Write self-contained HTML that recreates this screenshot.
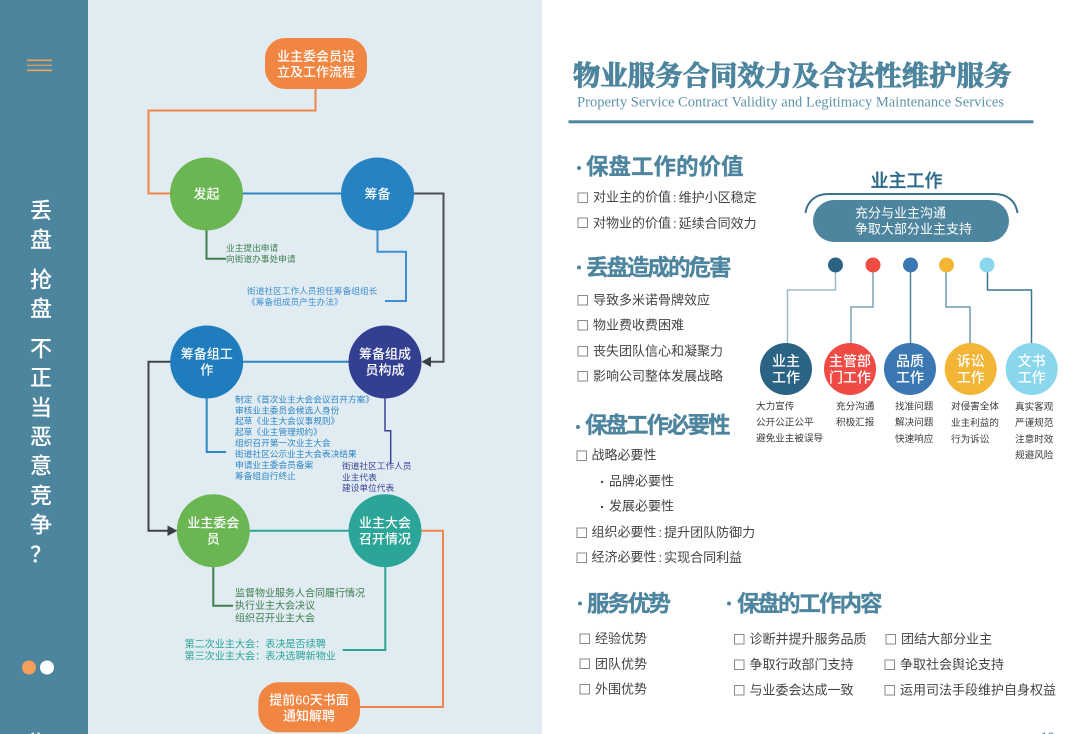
<!DOCTYPE html>
<html lang="zh"><head><meta charset="utf-8"><title>物业服务合同效力及合法性维护服务</title>
<style>
html,body{margin:0;padding:0;background:#fff;width:1080px;height:734px;overflow:hidden}
svg{display:block}
text{font-family:"Liberation Sans","Noto Sans CJK SC",sans-serif;dominant-baseline:central}
.w{fill:#fff;font-weight:500;text-anchor:middle}
.s{font-size:8.7px}
.h{font-size:22.5px;font-weight:700;fill:#4d849e;stroke:#4d849e;stroke-width:.3px;letter-spacing:-2px}
.i{font-size:13px;fill:#444}
.t{font-size:9.6px;fill:#3a3a3a}
.c{fill:none;stroke:#8a8a8a;stroke-width:1}
.l{fill:none;stroke-width:1.5}
.n{fill:none;stroke-width:2}
</style></head><body>
<svg width="1080" height="734" viewBox="0 0 1080 734" xmlns="http://www.w3.org/2000/svg">
<rect width="1080" height="734" fill="#fff"/>
<rect width="88" height="734" fill="#4d849e"/>
<rect x="88" width="454" height="734" fill="#e1ecf2"/>

<!-- left bar -->
<g stroke="#eda45e" stroke-width="1.6"><path d="M27 60.3H52M27 70.3H52"/></g>
<path d="M27 65.3H52" stroke="#d3a06c" stroke-width="1.4"/>
<text class="w" font-size="22" x="41" y="211">丢</text>
<text class="w" font-size="22" x="41" y="240">盘</text>
<text class="w" font-size="22" x="41" y="280">抢</text>
<text class="w" font-size="22" x="41" y="309">盘</text>
<text class="w" font-size="22" x="41" y="349">不</text>
<text class="w" font-size="22" x="41" y="378">正</text>
<text class="w" font-size="22" x="41" y="408">当</text>
<text class="w" font-size="22" x="41" y="437">恶</text>
<text class="w" font-size="22" x="41" y="466">意</text>
<text class="w" font-size="22" x="41" y="496">竞</text>
<text class="w" font-size="22" x="41" y="525">争</text>
<text class="w" font-size="22" x="41" y="555">？</text>
<circle cx="29" cy="667.5" r="7" fill="#f4a05a"/>
<circle cx="47" cy="667.5" r="7" fill="#fff"/>
<text class="w" font-size="12" x="36" y="737">11</text>
<text font-size="12" x="1041" y="737" fill="#4d849e">12</text>

<!-- flow connectors -->
<path class="n" stroke="#f0854a" d="M315.5 89V110.5H148.5V193.5H172"/>
<path class="n" stroke="#2f86c5" d="M240 193.5H343"/>
<path class="n" stroke="#4a4f55" d="M412 193.5H443.5V361.7H430"/>
<path d="M421.5 361.7L431 356.5V367Z" fill="#3a3f44"/>
<path class="n" stroke="#3f7f4f" d="M206.5 228V258.7H226"/>
<path class="n" stroke="#3f8fd0" d="M377.5 228V251.7H406V301H385"/>
<path class="n" stroke="#2f86c5" d="M240 361.7H352"/>
<path class="n" stroke="#2f86c5" d="M206.7 396V452H226"/>
<path class="l" stroke="#3a4596" d="M385 396V430.7H390.7V464"/>
<path class="n" stroke="#3f4347" d="M172 361.7H148.5V530.7H168"/>
<path d="M177.5 530.7L167.5 525.5V536Z" fill="#3a3f44"/>
<path class="n" stroke="#2aa597" d="M247 530.7H352"/>
<path class="n" stroke="#3f7f4f" d="M213.3 565V605.7H233"/>
<path class="n" stroke="#2aa597" d="M385.3 565V650H342.7"/>
<path class="n" stroke="#f0854a" d="M419 530.7H443V707H358"/>

<!-- flow nodes -->
<rect x="265" y="38" width="102" height="51" rx="20" fill="#f08642"/>
<text class="w" font-size="13" x="316" y="56.7">业主委会员设</text>
<text class="w" font-size="13" x="316" y="72">立及工作流程</text>
<circle cx="206.5" cy="194" r="36.5" fill="#6ab652"/>
<text class="w" font-size="13" x="206.5" y="194">发起</text>
<circle cx="377.5" cy="194" r="36.5" fill="#2583c1"/>
<text class="w" font-size="13" x="377.5" y="194">筹备</text>
<circle cx="206.7" cy="362" r="36.5" fill="#1f7dbd"/>
<text class="w" font-size="13" x="206.7" y="354">筹备组工</text>
<text class="w" font-size="13" x="206.7" y="370">作</text>
<circle cx="385" cy="362" r="36.5" fill="#333f91"/>
<text class="w" font-size="13" x="385" y="354">筹备组成</text>
<text class="w" font-size="13" x="385" y="370">员构成</text>
<circle cx="213.3" cy="530.7" r="36.5" fill="#6ab652"/>
<text class="w" font-size="13" x="213.3" y="523">业主委会</text>
<text class="w" font-size="13" x="213.3" y="539">员</text>
<circle cx="385" cy="530.7" r="36.5" fill="#2aa597"/>
<text class="w" font-size="13" x="385" y="523">业主大会</text>
<text class="w" font-size="13" x="385" y="539">召开情况</text>
<rect x="258.3" y="682.3" width="101.7" height="50" rx="20" fill="#f08642"/>
<text class="w" font-size="13" x="309" y="700">提前60天书面</text>
<text class="w" font-size="13" x="309" y="716">通知解聘</text>

<!-- flow labels -->
<g class="s" fill="#3f7f4f">
<text x="226" y="248">业主提出申请</text>
<text x="226" y="259">向街道办事处申请</text>
</g>
<g class="s" fill="#3f8fd0">
<text x="247" y="291">街道社区工作人员担任筹备组组长</text>
<text x="247" y="302">《筹备组成员产生办法》</text>
</g>
<g class="s" fill="#2f86c5">
<text x="235" y="399.3">制定《首次业主大会会议召开方案》</text>
<text x="235" y="410.3">审核业主委员会候选人身份</text>
<text x="235" y="421">起草《业主大会议事规则》</text>
<text x="235" y="432">起草《业主管理规约》</text>
<text x="235" y="443">组织召开第一次业主大会</text>
<text x="235" y="454">街道社区公示业主大会表决结果</text>
<text x="235" y="465">申请业主委会员备案</text>
<text x="235" y="476">筹备组自行终止</text>
</g>
<g class="s" fill="#3a4596">
<text x="342" y="466">街道社区工作人员</text>
<text x="342" y="477.5">业主代表</text>
<text x="342" y="488">建设单位代表</text>
</g>
<g font-size="10" fill="#3f7f4f">
<text x="235" y="594">监督物业服务人合同履行情况</text>
<text x="235" y="606.3">执行业主大会决议</text>
<text x="235" y="619">组织召开业主大会</text>
</g>
<g font-size="10.1" fill="#2aa597">
<text x="184.5" y="645">第二次业主大会：表决是否续聘</text>
<text x="184.5" y="657">第三次业主大会：表决选聘新物业</text>
</g>

<!-- right title -->
<text x="573" y="73" font-size="27.4" font-weight="700" fill="#4d849e" stroke="#4d849e" stroke-width=".9" style="font-family:'Noto Serif CJK SC',serif">物业服务合同效力及合法性维护服务</text>
<text x="577" y="102.5" font-size="15" fill="#5f93ab" textLength="427" lengthAdjust="spacingAndGlyphs" style="font-family:'Liberation Serif',serif">Property Service Contract Validity and Legitimacy Maintenance Services</text>
<rect x="568.5" y="120.3" width="465" height="3" fill="#4d849e"/>

<!-- sections -->
<g fill="#4d849e">
<circle cx="579" cy="168" r="2"/><circle cx="579" cy="267.5" r="2"/><circle cx="578" cy="427" r="2"/>
<circle cx="580" cy="603.5" r="2"/><circle cx="729" cy="603.5" r="2"/>
</g>
<text class="h" x="586" y="167" style="letter-spacing:0">保盘工作的价值</text>
<text class="h" x="586" y="268">丢盘造成的危害</text>
<text class="h" x="585" y="425.5">保盘工作必要性</text>
<text class="h" x="587" y="604">服务优势</text>
<text class="h" x="737" y="604">保盘的工作内容</text>

<g class="c">
<rect x="578" y="193" width="9.5" height="9.5"/><rect x="578" y="218" width="9.5" height="9.5"/>
<rect x="578" y="295.5" width="9.5" height="9.5"/><rect x="578" y="320.5" width="9.5" height="9.5"/>
<rect x="578" y="346.5" width="9.5" height="9.5"/><rect x="578" y="371.5" width="9.5" height="9.5"/>
<rect x="577" y="451" width="9.5" height="9.5"/><rect x="577" y="528" width="9.5" height="9.5"/>
<rect x="577" y="553" width="9.5" height="9.5"/>
<rect x="580" y="634" width="9.5" height="9.5"/><rect x="580" y="659" width="9.5" height="9.5"/>
<rect x="580" y="684.5" width="9.5" height="9.5"/>
<rect x="734.5" y="634.5" width="9.5" height="9.5"/><rect x="734.5" y="660" width="9.5" height="9.5"/>
<rect x="734.5" y="685.5" width="9.5" height="9.5"/>
<rect x="886" y="634.5" width="9.5" height="9.5"/><rect x="885" y="660" width="9.5" height="9.5"/>
<rect x="885" y="685.5" width="9.5" height="9.5"/>
</g>
<g fill="#444"><circle cx="602" cy="482" r="1.2"/><circle cx="602" cy="507" r="1.2"/></g>
<g class="i">
<text x="593" y="197">对业主的价值<tspan dx="2">:</tspan><tspan dx="2">维护小区稳定</tspan></text>
<text x="593" y="223">对物业的价值<tspan dx="2">:</tspan><tspan dx="2">延续合同效力</tspan></text>
<text x="593" y="300">导致多米诺骨牌效应</text>
<text x="593" y="325">物业费收费困难</text>
<text x="593" y="351">丧失团队信心和凝聚力</text>
<text x="593" y="376">影响公司整体发展战略</text>
<text x="591.5" y="455">战略必要性</text>
<text x="609" y="481">品牌必要性</text>
<text x="609" y="506">发展必要性</text>
<text x="591.5" y="532">组织必要性<tspan dx="2">:</tspan><tspan dx="2">提升团队防御力</tspan></text>
<text x="591.5" y="557">经济必要性<tspan dx="2">:</tspan><tspan dx="2">实现合同利益</tspan></text>
<text x="595" y="638.5">经验优势</text>
<text x="595" y="664">团队优势</text>
<text x="595" y="689">外围优势</text>
<text x="749.5" y="639">诊断并提升服务品质</text>
<text x="749.5" y="664.5">争取行政部门支持</text>
<text x="749.5" y="690">与业委会达成一致</text>
<text x="901" y="639">团结大部分业主</text>
<text x="900" y="664.5">争取社会舆论支持</text>
<text x="900" y="690">运用司法手段维护自身权益</text>
</g>

<!-- owner work diagram -->
<text x="906.5" y="181" font-size="18" font-weight="500" fill="#2d6a8a" stroke="#2d6a8a" stroke-width=".25" text-anchor="middle">业主工作</text>
<path d="M805.5 213C807 202 815 194 828 194H995C1008 194 1016 202 1017.5 213" fill="none" stroke="#3b7290" stroke-width="2"/>
<rect x="813" y="200" width="196" height="42" rx="21" fill="#4d849e"/>
<text x="855" y="213" font-size="13" fill="#fff">充分与业主沟通</text>
<text x="855" y="229" font-size="13" fill="#fff">争取大部分业主支持</text>

<g class="l">
<path stroke="#9dbccb" d="M835.5 272V290H787.5V346"/>
<path stroke="#7ea4b6" d="M873 272V307H851V346"/>
<path stroke="#4d849e" d="M910.5 272V346"/>
<path stroke="#6d99ae" d="M946 272V307H970V346"/>
<path stroke="#3f7490" d="M987.5 272V290H1031.5V346"/>
</g>
<circle cx="835.5" cy="265" r="7.5" fill="#2b6385"/>
<circle cx="873" cy="265" r="7.5" fill="#f04a45"/>
<circle cx="910.5" cy="265" r="7.5" fill="#3b78b3"/>
<circle cx="946.5" cy="265" r="7.5" fill="#f2b535"/>
<circle cx="987" cy="265" r="7.5" fill="#8ad6ec"/>

<circle cx="786" cy="369" r="26" fill="#2b6385"/>
<circle cx="850" cy="369" r="26" fill="#f04a45"/>
<circle cx="910" cy="369" r="26" fill="#3b78b3"/>
<circle cx="970.7" cy="369" r="26" fill="#f2b535"/>
<circle cx="1031.7" cy="369" r="26" fill="#8ad6ec"/>
<text class="w" font-size="14" x="786" y="361">业主</text><text class="w" font-size="14" x="786" y="377.5">工作</text>
<text class="w" font-size="14" x="850" y="361">主管部</text><text class="w" font-size="14" x="850" y="377.5">门工作</text>
<text class="w" font-size="14" x="910" y="361">品质</text><text class="w" font-size="14" x="910" y="377.5">工作</text>
<text class="w" font-size="14" x="970.7" y="361">诉讼</text><text class="w" font-size="14" x="970.7" y="377.5">工作</text>
<text class="w" font-size="14" x="1031.7" y="361">文书</text><text class="w" font-size="14" x="1031.7" y="377.5">工作</text>
<g class="t">
<text x="756" y="407">大力宣传</text><text x="756" y="423">公开公正公平</text><text x="756" y="439">避免业主被误导</text>
<text x="836" y="407">充分沟通</text><text x="836" y="423">积极汇报</text>
<text x="895" y="407">找准问题</text><text x="895" y="423">解决问题</text><text x="895" y="439.5">快速响应</text>
<text x="951" y="407">对侵害全体</text><text x="951" y="423.5">业主利益的</text><text x="951" y="440">行为诉讼</text>
<text x="1015" y="407.5">真实客观</text><text x="1015" y="423.5">严谨规范</text><text x="1015" y="440">注意时效</text><text x="1015" y="456">规避风险</text>
</g>
</svg>
</body></html>
